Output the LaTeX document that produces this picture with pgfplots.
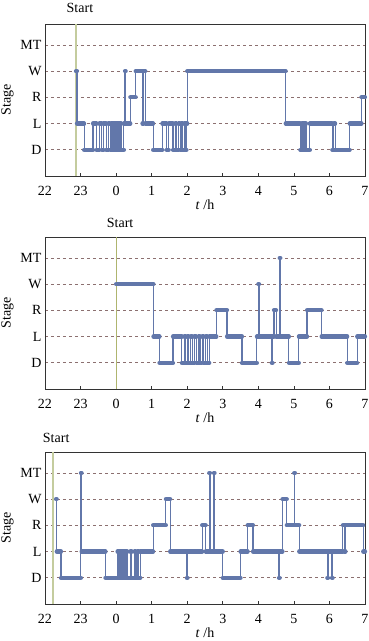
\documentclass[border=0pt]{standalone}
\usepackage{fontspec}
\setmainfont{Liberation Serif}
\usepackage{pgfplots}
\pgfplotsset{compat=1.18}
\usepackage{pgfplotstable}

\definecolor{hyp}{RGB}{98,119,170}
\definecolor{gridc}{RGB}{140,112,112}
\definecolor{startc}{RGB}{196,204,158}

\pgfplotstableread{
t s
-1.13 4
-1.10 2
-0.90 1
-0.65 2
-0.55 1
-0.47 2
-0.40 1
-0.35 2
-0.28 1
-0.22 2
-0.17 1
-0.13 2
-0.10 1
-0.07 2
-0.04 1
-0.01 2
0.02 1
0.05 2
0.08 1
0.11 2
0.14 1
0.22 2
0.25 4
0.27 2
0.40 3
0.55 4
0.74 2
0.77 4
0.82 2
1.04 1
1.30 2
1.42 1
1.48 2
1.60 1
1.66 2
1.70 1
1.76 2
1.80 1
1.84 2
1.87 1
1.92 2
1.96 1
1.98 2
2.00 4
4.77 2
5.18 1
5.22 2
5.24 1
5.27 2
5.29 1
5.32 2
5.34 1
5.45 2
6.08 1
6.12 2
6.16 1
6.57 2
6.90 3
7.00 3
}\dataA

\pgfplotstableread{
t s
0.00 4
1.05 2
1.22 1
1.60 2
1.85 1
1.92 2
1.96 1
2.00 2
2.04 1
2.10 2
2.14 1
2.20 2
2.25 1
2.32 2
2.36 1
2.42 2
2.46 1
2.52 2
2.56 1
2.62 2
2.82 3
3.12 2
3.54 1
3.96 2
4.00 4
4.02 2
4.38 1
4.40 2
4.44 3
4.50 2
4.60 5
4.62 2
4.86 1
5.14 2
5.37 3
5.78 2
6.50 1
6.78 2
7.00 2
}\dataB

\pgfplotstableread{
t s
-1.69 4
-1.67 2
-1.55 1
-0.99 5
-0.97 2
-0.30 1
0.04 2
0.07 1
0.10 2
0.13 1
0.16 2
0.19 1
0.22 2
0.25 1
0.28 2
0.31 1
0.40 2
0.44 1
0.52 2
0.56 1
0.60 2
0.64 1
0.68 2
1.04 3
1.40 4
1.52 2
1.99 1
2.01 2
2.42 3
2.52 2
2.62 5
2.64 2
2.75 5
2.77 2
3.00 1
3.50 2
3.70 3
3.85 2
4.58 1
4.60 2
4.68 4
4.80 3
5.01 5
5.03 3
5.15 2
5.94 1
5.96 2
6.07 1
6.09 2
6.38 3
6.42 2
6.45 3
6.95 2
7.00 2
}\dataC

\newcommand{\fs}{\fontsize{14}{16}\selectfont}

\pgfplotsset{
  hypax/.style={
    width=320pt, height=152pt, scale only axis,
    xmin=-2, xmax=7, ymin=0, ymax=5.8,
    xtick={-2,-1,0,1,2,3,4,5,6,7},
    xticklabels={22,23,0,1,2,3,4,5,6,7},
    ytick={1,2,3,4,5}, yticklabels={D,L,R,W,MT},
    ymajorgrids,
    grid style={gridc, dashed, line width=0.7pt},
    major tick length=3pt,
    tick align=inside,
    xtick pos=bottom,
    ytick style={draw=none},
    xtick style={black!80, line width=0.6pt},
    xlabel={\textit{t} /h}, ylabel={Stage},
    label style={font=\fs},
    xlabel style={at={(axis description cs:0.5,0)}, anchor=center, yshift=-28.5pt},
    tick label style={font=\fs},
    xticklabel style={anchor=center, yshift=-14.5pt},
    /pgf/number format/assume math mode=true,
    axis line style={black!80, line width=0.6pt},
    clip=false,
    anchor=north west,
  },
  thinl/.style={hyp, line width=1.1pt, const plot, forget plot},
  thickl/.style={hyp, line width=4.2pt, jump mark left, line cap=round, forget plot},
}

\begin{document}
\begin{tikzpicture}
\path[use as bounding box] (0,0) rectangle (369pt,-641pt);

\begin{axis}[hypax, at={(45pt,-24pt)}]
\addplot[startc, line width=1.6pt, forget plot] coordinates {(-1.13,0) (-1.13,5.8)};
\addplot[thinl] table {\dataA};
\addplot[thickl] table {\dataA};
\node[font=\fs] at (axis cs:-1.13,5.8) [xshift=4pt, yshift=16pt] {Start};
\end{axis}

\begin{axis}[hypax, at={(45pt,-237pt)}]
\addplot[startc!70!olive, line width=0.9pt, forget plot] coordinates {(0,0) (0,5.8)};
\addplot[thinl] table {\dataB};
\addplot[thickl] table {\dataB};
\node[font=\fs] at (axis cs:0,5.8) [xshift=4pt, yshift=14pt] {Start};
\end{axis}

\begin{axis}[hypax, at={(45pt,-452pt)}]
\addplot[startc, line width=1.6pt, forget plot] coordinates {(-1.77,0) (-1.77,5.8)};
\addplot[thinl] table {\dataC};
\addplot[thickl] table {\dataC};
\node[font=\fs] at (axis cs:-1.77,5.8) [xshift=3pt, yshift=14pt] {Start};
\end{axis}
\end{tikzpicture}
\end{document}
